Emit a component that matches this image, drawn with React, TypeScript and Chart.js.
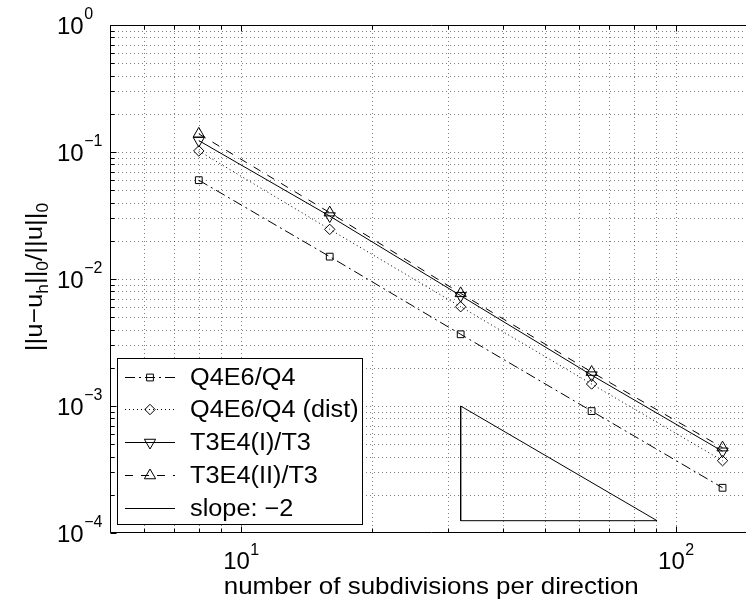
import React, { useEffect, useRef } from "react";
import { Chart, registerables } from "chart.js";
import { drawPoint } from "chart.js/helpers";

Chart.register(...registerables);

// ---- data ----
const subdivisions = [8, 16, 32, 64, 128];
const q4e6 = [0.06, 0.015, 0.00367, 0.000912, 0.000227];
const q4e6Dist = [0.102, 0.0246, 0.00605, 0.00149, 0.000371];
const t3e4I = [0.123, 0.0313, 0.00739, 0.00175, 0.00044];
const t3e4II = [0.139, 0.0333, 0.00771, 0.00185, 0.00047];
const slopeX = [32, 32, 90.51, 32];
const slopeY = [1e-3, 1.25e-4, 1.25e-4, 1e-3];
const seriesLabels = ["Q4E6/Q4", "Q4E6/Q4 (dist)", "T3E4(I)/T3", "T3E4(II)/T3", "slope: \u22122"];
const xTickExps = [1, 2];
const yTickExps = [0, -1, -2, -3, -4];
const xRange = [5, 150];
const yRange = [1e-4, 1];
const xTitle = "number of subdivisions per direction";
const yTitleParts: [string, boolean][] = [
  ["||u\u2212u", false],
  ["h", true],
  ["||", false],
  ["0", true],
  ["/||u||", false],
  ["0", true],
];

const CANVAS_W = 760;
const CANVAS_H = 609;
const FONT = '"Liberation Sans", Arial, Helvetica, sans-serif';

function expStr(e: number) {
  return e < 0 ? "\u2212" + Math.abs(e) : String(e);
}

function drawText(ctx: CanvasRenderingContext2D, s: string, x: number, y: number, size: number, align: CanvasTextAlign, sx = 1) {
  ctx.save();
  ctx.font = `${size}px ${FONT}`;
  ctx.textBaseline = "alphabetic";
  ctx.textAlign = align;
  ctx.fillStyle = "#000";
  ctx.translate(x, y);
  ctx.scale(sx, 1);
  ctx.fillText(s, 0, 0);
  ctx.restore();
}

function measure(ctx: CanvasRenderingContext2D, s: string, size: number) {
  ctx.save();
  ctx.font = `${size}px ${FONT}`;
  const w = ctx.measureText(s).width;
  ctx.restore();
  return w;
}

function logValues(min: number, max: number) {
  const out: { v: number; major: boolean }[] = [];
  for (let e = Math.floor(Math.log10(min)); e <= Math.ceil(Math.log10(max)); e++) {
    for (let m = 1; m <= 9; m++) {
      const v = m * Math.pow(10, e);
      if (v >= min * 0.9999 && v <= max * 1.0001) out.push({ v, major: m === 1 });
    }
  }
  return out;
}

const matlabPlugin = {
  id: "matlabLook",
  beforeDatasetsDraw(chart: any) {
    const { ctx, chartArea: a, scales } = chart;
    const xs = scales.x;
    const ys = scales.y;
    ctx.save();
    ctx.beginPath();
    ctx.rect(a.left, a.top, a.right - a.left, a.bottom - a.top);
    ctx.clip();
    ctx.strokeStyle = "rgba(0,0,0,0.5)";
    ctx.lineWidth = 1;
    ctx.setLineDash([1, 3]);
    for (const t of logValues(xRange[0], xRange[1])) {
      const px = Math.round(xs.getPixelForValue(t.v)) + 0.5;
      ctx.beginPath();
      ctx.moveTo(px, a.top);
      ctx.lineTo(px, a.bottom);
      ctx.stroke();
    }
    for (const t of logValues(yRange[0], yRange[1])) {
      const py = Math.round(ys.getPixelForValue(t.v)) + 0.5;
      ctx.beginPath();
      ctx.moveTo(a.left, py);
      ctx.lineTo(a.right, py);
      ctx.stroke();
    }
    ctx.restore();
  },
  afterDraw(chart: any) {
    const { ctx, chartArea: a, scales } = chart;
    const xs = scales.x;
    const ys = scales.y;
    ctx.save();
    // box
    ctx.strokeStyle = "#000";
    ctx.lineWidth = 1;
    ctx.setLineDash([]);
    const L = Math.round(a.left) + 0.5;
    const R = Math.round(a.right) - 0.5;
    const T = Math.round(a.top) + 0.5;
    const B = Math.round(a.bottom) - 0.5;
    ctx.beginPath();
    ctx.moveTo(L, T);
    ctx.lineTo(R, T);
    ctx.lineTo(R, B);
    ctx.lineTo(L, B);
    ctx.closePath();
    ctx.stroke();
    // ticks
    for (const t of logValues(xRange[0], xRange[1])) {
      const px = Math.round(xs.getPixelForValue(t.v)) + 0.5;
      const len = t.major ? 6 : 4;
      ctx.beginPath();
      ctx.moveTo(px, B);
      ctx.lineTo(px, B - len);
      ctx.moveTo(px, T);
      ctx.lineTo(px, T + len);
      ctx.stroke();
    }
    for (const t of logValues(yRange[0], yRange[1])) {
      const py = Math.round(ys.getPixelForValue(t.v)) + 0.5;
      const len = t.major ? 6 : 4;
      ctx.beginPath();
      ctx.moveTo(L, py);
      ctx.lineTo(L + len, py);
      ctx.moveTo(R, py);
      ctx.lineTo(R - len, py);
      ctx.stroke();
    }
    // tick labels
    const mainSize = 24;
    const supSize = 16;
    for (const e of yTickExps) {
      const py = ys.getPixelForValue(Math.pow(10, e));
      const x0 = 57;
      const w10 = measure(ctx, "10", mainSize);
      drawText(ctx, "10", x0, py + 8.5, mainSize, "left");
      drawText(ctx, expStr(e), x0 + w10 + 0.5, py - 6, supSize, "left");
    }
    for (const e of xTickExps) {
      const px = xs.getPixelForValue(Math.pow(10, e));
      const w10 = measure(ctx, "10", mainSize);
      const ws = measure(ctx, expStr(e), supSize);
      const x0 = px - (w10 + ws) / 2;
      drawText(ctx, "10", x0, 569, mainSize, "left");
      drawText(ctx, expStr(e), x0 + w10 + 0.5, 555, supSize, "left");
    }
    // x title
    drawText(ctx, xTitle, (a.left + a.right) / 2, 594, 24, "center", 1.08);
    // y title (rotated)
    ctx.save();
    ctx.translate(42, (a.top + a.bottom) / 2 - 2);
    ctx.rotate(-Math.PI / 2);
    const sx = 1.08;
    let total = 0;
    for (const [s, sub] of yTitleParts) total += measure(ctx, s, sub ? 16 : 24) * sx;
    let cx = -total / 2;
    for (const [s, sub] of yTitleParts) {
      const size = sub ? 16 : 24;
      drawText(ctx, s, cx, sub ? 6 : 0, size, "left", sx);
      cx += measure(ctx, s, size) * sx;
    }
    ctx.restore();

    // legend
    const bx = 117.5, by = 358.5, bw = 245, bh = 166;
    ctx.fillStyle = "#fff";
    ctx.fillRect(bx, by, bw, bh);
    ctx.strokeStyle = "#000";
    ctx.lineWidth = 1;
    ctx.strokeRect(bx, by, bw, bh);
    const datasets = chart.data.datasets;
    for (let i = 0; i < datasets.length; i++) {
      const d = datasets[i];
      const cy = 376.5 + i * 32.8;
      const ly = Math.round(cy) + 0.5;
      ctx.save();
      ctx.strokeStyle = "#000";
      ctx.lineWidth = 1;
      ctx.setLineDash(d.borderDash || []);
      ctx.beginPath();
      ctx.moveTo(125, ly);
      ctx.lineTo(175, ly);
      ctx.stroke();
      ctx.setLineDash([]);
      if (d.pointRadius > 0) {
        ctx.fillStyle = "rgba(0,0,0,0)";
        drawPoint(ctx, { pointStyle: d.pointStyle, rotation: d.pointRotation || 0, radius: d.pointRadius, borderWidth: 1 } as any, 150, ly);
      }
      ctx.restore();
      drawText(ctx, seriesLabels[i], 190, cy + 8, 23, "left", 1.1);
    }
    ctx.restore();
  },
};

function makeSeries(label: string, ys: number[], style: string, rot: number, radius: number, dash: number[]) {
  return {
    label,
    data: subdivisions.map((x, i) => ({ x, y: ys[i] })),
    showLine: true,
    borderColor: "#000",
    borderWidth: 1,
    borderDash: dash,
    pointStyle: style,
    pointRotation: rot,
    pointRadius: radius,
    pointHoverRadius: radius,
    pointBorderColor: "#000",
    pointBackgroundColor: "rgba(0,0,0,0)",
    pointBorderWidth: 1,
    fill: false,
    tension: 0,
  };
}

export default function App() {
  const ref = useRef<HTMLCanvasElement | null>(null);
  useEffect(() => {
    if (!ref.current) return;
    const chart = new Chart(ref.current, {
      type: "scatter",
      data: {
        datasets: [
          makeSeries(seriesLabels[0], q4e6, "rect", 0, 4.8, [10, 4, 2, 4]),
          makeSeries(seriesLabels[1], q4e6Dist, "rectRot", 0, 5.2, [1, 3]),
          makeSeries(seriesLabels[2], t3e4I, "triangle", 180, 6.5, []),
          makeSeries(seriesLabels[3], t3e4II, "triangle", 0, 6.5, [8, 8]),
          {
            label: seriesLabels[4],
            data: slopeX.map((x, i) => ({ x, y: slopeY[i] })),
            showLine: true,
            borderColor: "#000",
            borderWidth: 1,
            borderDash: [],
            pointRadius: 0,
            pointHoverRadius: 0,
            fill: false,
            tension: 0,
          },
        ] as any,
      },
      options: {
        responsive: false,
        animation: false,
        devicePixelRatio: 1,
        layout: { padding: { left: 110, top: 25, right: CANVAS_W - 755, bottom: CANVAS_H - 533 } },
        plugins: { legend: { display: false }, tooltip: { enabled: false } },
        events: [],
        scales: {
          x: { type: "logarithmic", min: xRange[0], max: xRange[1], display: false },
          y: { type: "logarithmic", min: yRange[0], max: yRange[1], display: false },
        },
      } as any,
      plugins: [matlabPlugin],
    });
    return () => chart.destroy();
  }, []);
  return (
    <div style={{ position: "absolute", left: 0, top: 0, width: 746, height: 609, overflow: "hidden", background: "#fff" }}>
      <canvas ref={ref} width={CANVAS_W} height={CANVAS_H} style={{ display: "block" }} />
    </div>
  );
}
